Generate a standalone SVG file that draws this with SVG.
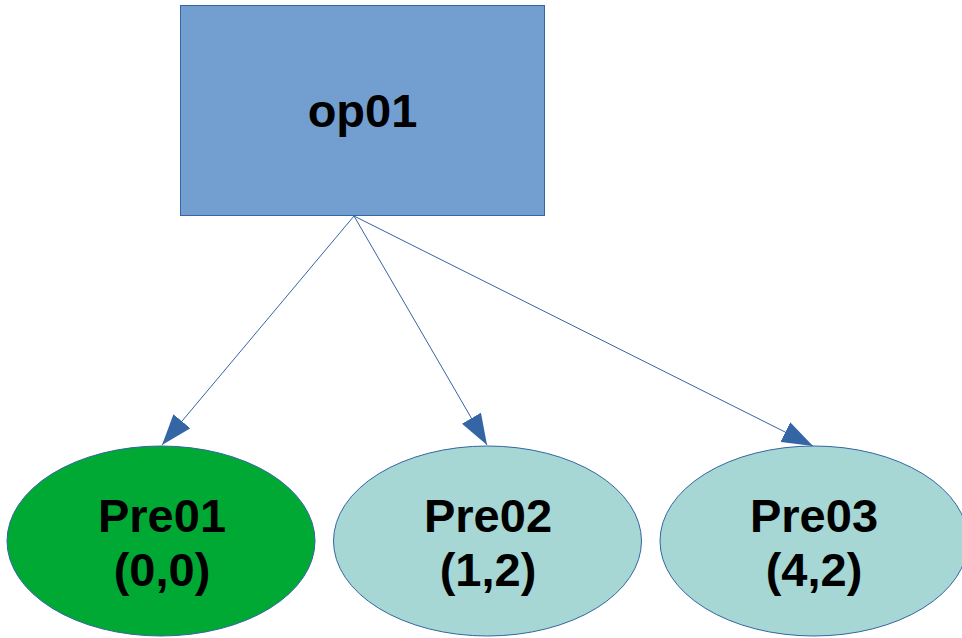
<svg xmlns="http://www.w3.org/2000/svg" width="962" height="638" viewBox="0 0 962 638">
<style>
.lbl{font-family:"Liberation Sans",Arial,sans-serif;font-weight:bold;font-size:47px;fill:#000;text-anchor:middle}
.edge{stroke:#3465a4;stroke-width:1;fill:none}
.shape{stroke:#3465a4;stroke-width:1}
</style>
<defs>
<marker id="ah" markerUnits="userSpaceOnUse" markerWidth="31" markerHeight="22" refX="31" refY="11" orient="auto" viewBox="0 0 31 22">
<path d="M0,0 L31,11 L0,22 z" fill="#3465a4"/>
</marker>
</defs>
<rect width="962" height="638" fill="#fff"/>
<g id="connectors">
<line class="edge" x1="354" y1="216" x2="162" y2="445" marker-end="url(#ah)"/>
<line class="edge" x1="354" y1="216" x2="487" y2="445" marker-end="url(#ah)"/>
<line class="edge" x1="354" y1="216" x2="813" y2="446" marker-end="url(#ah)"/>
</g>
<g id="op01">
<rect class="shape" x="180.5" y="5.5" width="364" height="210" fill="#729fcf"/>
<text class="lbl" x="362.5" y="127">op01</text>
</g>
<g id="Pre01">
<ellipse class="shape" cx="161" cy="541" rx="154" ry="95" fill="#00a933"/>
<text class="lbl" x="162" y="532">Pre01</text>
<text class="lbl" x="162" y="586">(0,0)</text>
</g>
<g id="Pre02">
<ellipse class="shape" cx="487.5" cy="541" rx="154" ry="95" fill="#a6d7d4"/>
<text class="lbl" x="488" y="532">Pre02</text>
<text class="lbl" x="488" y="586">(1,2)</text>
</g>
<g id="Pre03">
<ellipse class="shape" cx="814" cy="541" rx="154" ry="95" fill="#a6d7d4"/>
<text class="lbl" x="814" y="532">Pre03</text>
<text class="lbl" x="814" y="586">(4,2)</text>
</g>
</svg>
